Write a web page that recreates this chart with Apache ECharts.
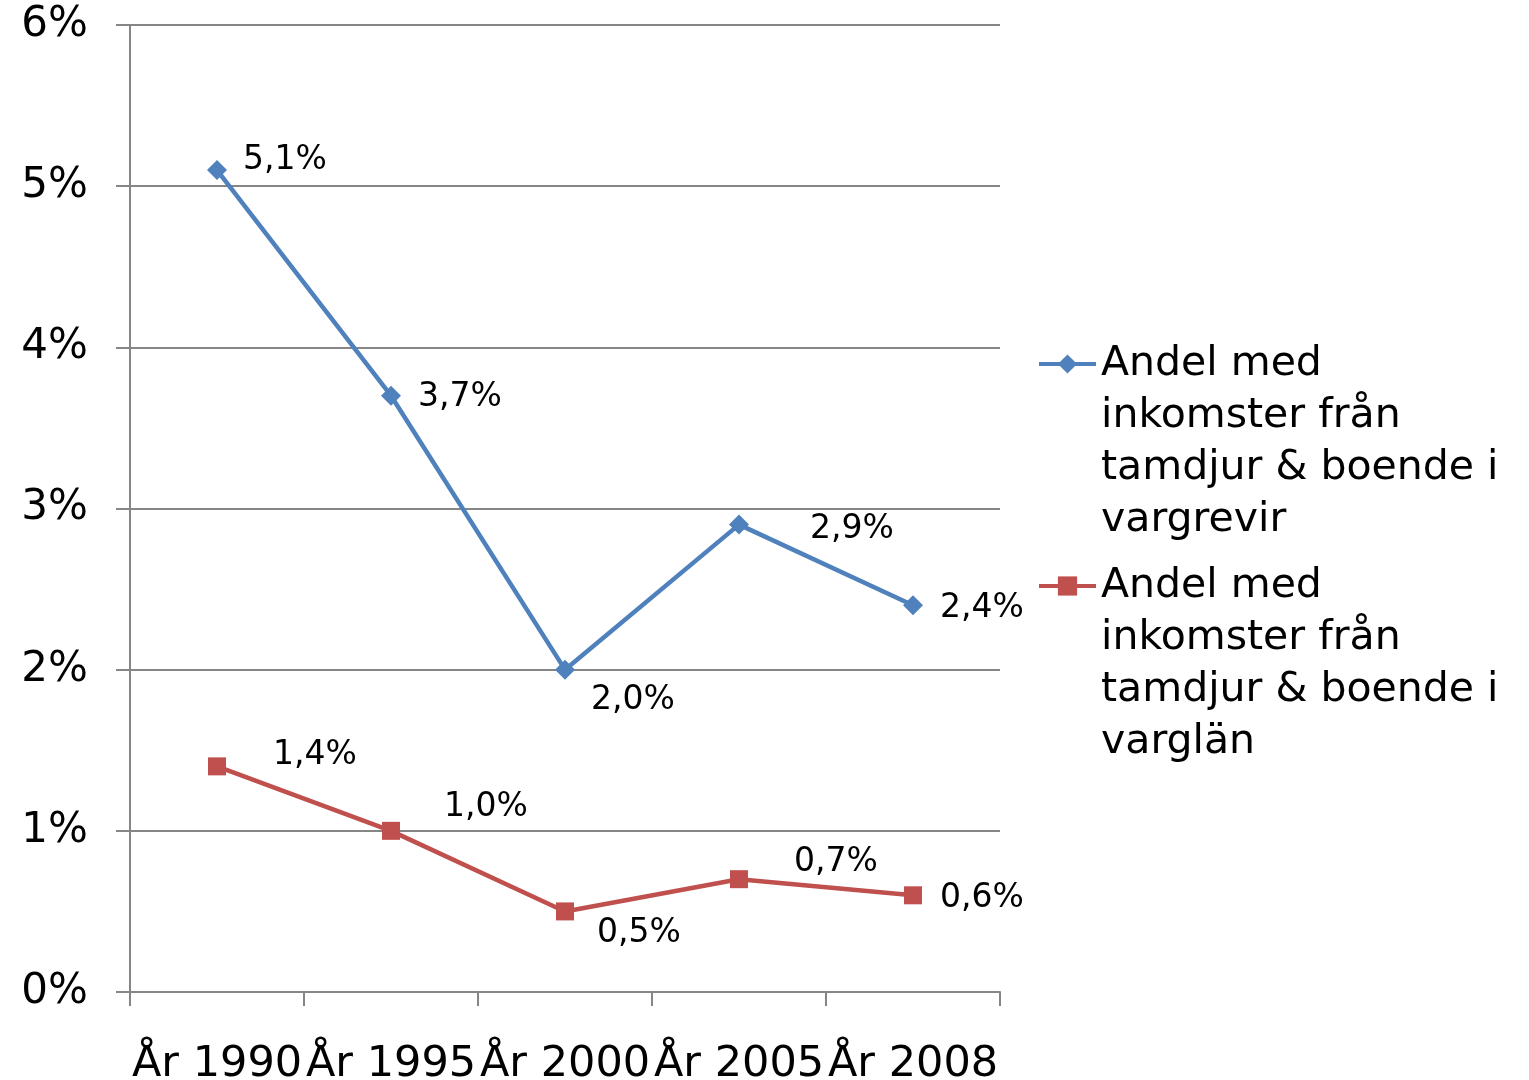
<!DOCTYPE html>
<html>
<head>
<meta charset="utf-8">
<title>Andel med inkomster från tamdjur</title>
<script src="https://cdn.jsdelivr.net/npm/echarts@6/dist/echarts.min.js"></script>
<style>
    html, body { margin: 0; padding: 0; background: #fff; }
    #chart { width: 1529px; height: 1080px; }
</style>
</head>
<body>
<div id="chart"></div>
<script>
// data (percent)
var years = ['År 1990', 'År 1995', 'År 2000', 'År 2005', 'År 2008'];
var vargrevir = [5.1, 3.7, 2.0, 2.9, 2.4];
var varglan = [1.4, 1.0, 0.5, 0.7, 0.6];
var seriesNames = [
    'Andel med inkomster från tamdjur & boende i vargrevir',
    'Andel med inkomster från tamdjur & boende i varglän'
];
var legendLines = [
    ['Andel med', 'inkomster från', 'tamdjur & boende i', 'vargrevir'],
    ['Andel med', 'inkomster från', 'tamdjur & boende i', 'varglän']
];

var FONT = 'DejaVu Sans';

function pct(v) {
    return v.toFixed(1).replace('.', ',') + '%';
}

// label nudges per point, so the labels sit where the original put them
function withLabels(values, offsets) {
    return values.map(function (v, i) {
        return { value: v, label: { offset: offsets[i] } };
    });
}

var chart = echarts.init(document.getElementById('chart'));

var option = {
    animation: false,
    textStyle: { fontFamily: FONT },
    grid: { left: 130, right: 529, top: 25, bottom: 88, outerBoundsMode: 'none', containLabel: false },
    xAxis: {
        type: 'category',
        data: years,
        boundaryGap: true,
        axisLine: { lineStyle: { color: '#868686', width: 2 } },
        axisTick: { show: true, interval: 0, length: 14, lineStyle: { color: '#868686', width: 2 } },
        axisLabel: { color: '#000', fontSize: 43, fontFamily: FONT, margin: 51, interval: 0 }
    },
    yAxis: {
        type: 'value',
        min: 0,
        max: 6,
        interval: 1,
        axisLine: { show: true, lineStyle: { color: '#868686', width: 2 } },
        axisTick: { show: true, length: 14, lineStyle: { color: '#868686', width: 2 } },
        axisLabel: { color: '#000', fontSize: 42, fontFamily: FONT, margin: 42, formatter: '{value}%' },
        splitLine: { lineStyle: { color: '#868686', width: 2 } }
    },
    legend: {
        orient: 'vertical',
        left: 1032,
        top: 177,
        itemWidth: 57,
        itemHeight: 24,
        itemGap: -142,
        data: seriesNames,
        lineStyle: { width: 4 },
        formatter: function (name) {
            var i = seriesNames.indexOf(name);
            // three empty lines first, so the icon sits level with the first line
            return '\n\n\n' + legendLines[i].join('\n');
        },
        textStyle: { color: '#000', fontSize: 41, lineHeight: 52, fontFamily: FONT }
    },
    series: [{
        name: seriesNames[0],
        type: 'line',
        symbol: 'diamond',
        symbolSize: 20,
        itemStyle: { color: '#4F81BD' },
        lineStyle: { color: '#4F81BD', width: 4.5 },
        label: {
            show: true,
            position: 'right',
            color: '#000',
            fontSize: 33,
            fontFamily: FONT,
            formatter: function (p) { return pct(p.value); }
        },
        data: withLabels(vargrevir, [[11, -10], [12, 2], [11, 31], [56, 5], [12, 3]])
    }, {
        name: seriesNames[1],
        type: 'line',
        symbol: 'rect',
        symbolSize: 18,
        itemStyle: { color: '#C0504D' },
        lineStyle: { color: '#C0504D', width: 4.5 },
        label: {
            show: true,
            position: 'right',
            color: '#000',
            fontSize: 33,
            fontFamily: FONT,
            formatter: function (p) { return pct(p.value); }
        },
        data: withLabels(varglan, [[42, -11], [39, -23], [18, 22], [41, -17], [13, 3]])
    }]
};

chart.setOption(option);
</script>
</body>
</html>
